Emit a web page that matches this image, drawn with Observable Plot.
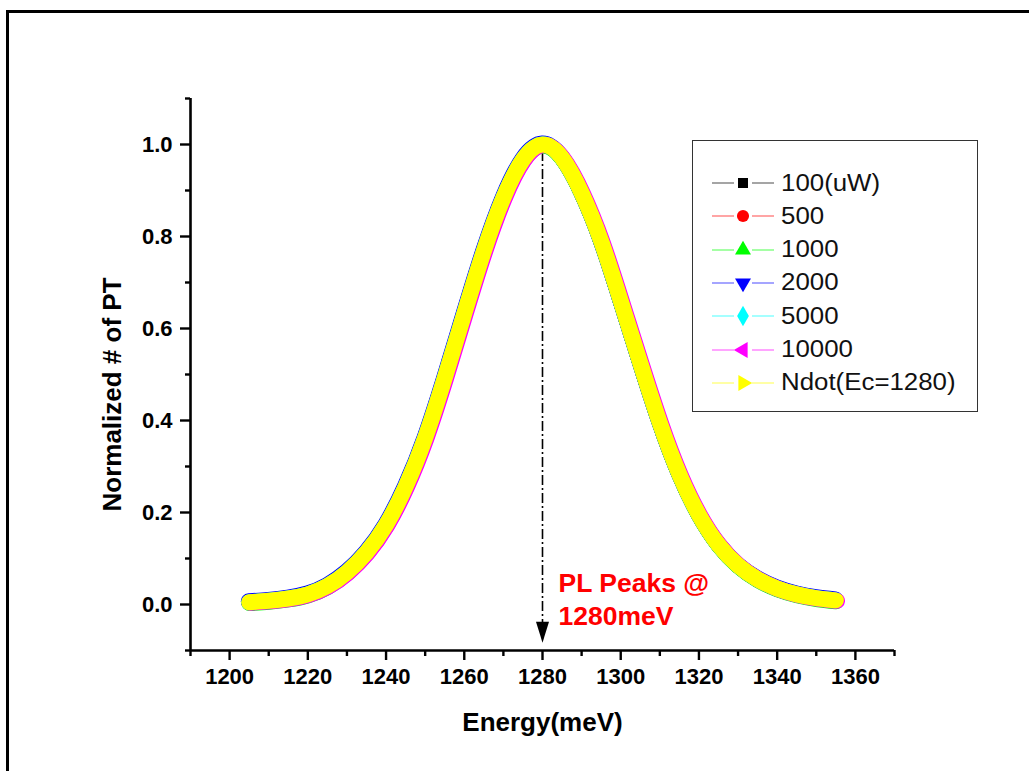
<!DOCTYPE html>
<html>
<head>
<meta charset="utf-8">
<script src="https://cdn.jsdelivr.net/npm/d3@7"></script>
<script src="https://cdn.jsdelivr.net/npm/@observablehq/plot@0.6"></script>
<style>
  html, body { margin: 0; padding: 0; background: #fff; }
  #page { position: relative; width: 1029px; height: 771px; overflow: hidden; background: #fff;
          font-family: "Liberation Sans", Arial, Helvetica, sans-serif; }
  #sheet { position: absolute; left: 6px; top: 10px; width: 1040px; height: 780px;
           border-left: 3px solid #000; border-top: 3px solid #000; box-sizing: border-box; }
  #chart { position: absolute; left: 0; top: 0; }
  #legend { position: absolute; left: 692px; top: 140px; width: 286px; height: 272px;
            border: 1.5px solid #333; box-sizing: border-box; background: #fff; }
  .row { position: absolute; left: 0; height: 30px; display: flex; align-items: center; }
  .row svg { display: block; }
  .row span { display: inline-block; font-size: 23.5px; color: #111; margin-left: 7px; white-space: nowrap;
              transform: scaleX(1.1); transform-origin: left center; }
</style>
</head>
<body>
<div id="page">
  <div id="sheet"></div>
  <div id="chart"></div>
  <div id="legend"></div>
</div>
<script>
// Photoluminescence spectra, normalized, for several excitation powers
const energy = [1205, 1210, 1215, 1220, 1225, 1230, 1235, 1240, 1245, 1250, 1255, 1260, 1265, 1270, 1275,
                1280, 1285, 1290, 1295, 1300, 1305, 1310, 1315, 1320, 1325, 1330, 1335, 1340, 1345, 1350, 1355];
const normalizedPL = [0.005, 0.008, 0.013, 0.022, 0.04, 0.07, 0.113, 0.173, 0.256, 0.362, 0.492, 0.632, 0.768, 0.884, 0.967,
                      1.0, 0.971, 0.895, 0.79, 0.66, 0.525, 0.395, 0.283, 0.195, 0.13, 0.085, 0.055, 0.035, 0.022, 0.014, 0.009];

const seriesNames = ["100(uW)", "500", "1000", "2000", "5000", "10000", "Ndot(Ec=1280)"];
const seriesColors = ["#000000", "#ff0000", "#00ff00", "#0000ff", "#00ffff", "#ff00ff", "#ffff00"];
const seriesSymbols = ["square", "circle", "triangle", "triangleDown", "diamond", "triangleLeft", "triangleRight"];

const xDomain = [1190, 1370];
const yDomain = [-0.1, 1.1];
const xMajorTicks = [1200, 1220, 1240, 1260, 1280, 1300, 1320, 1340, 1360];
const xMinorTicks = [1190, 1210, 1230, 1250, 1270, 1290, 1310, 1330, 1350, 1370];
const yMajorTicks = [0.0, 0.2, 0.4, 0.6, 0.8, 1.0];
const yMinorTicks = [-0.1, 0.1, 0.3, 0.5, 0.7, 0.9, 1.1];

// Peak annotation
const peakEnergy = 1280;
const arrowFrom = 0.985;
const arrowTo = -0.083;
const peakLabel = "PL Peaks @\n1280meV";
const peakLabelY = 0.078;

const rows = [];
seriesNames.forEach((name) => {
  energy.forEach((e, j) => rows.push({series: name, energy: e, value: normalizedPL[j]}));
});

// small pixel offsets so the coloured edges of the overlapping bands peek out
const fringe = {"1000": {dx: 0.3, dy: 0.9}, "2000": {dx: -0.4, dy: -0.9}, "10000": {dx: 1.2, dy: 0.5}};

// filled arrow head with its tip on the anchor point
const arrowHead = {
  draw(ctx) {
    ctx.moveTo(-6.5, -21);
    ctx.lineTo(6.5, -21);
    ctx.lineTo(0, 0);
    ctx.closePath();
  }
};

const bandMarks = seriesNames.map((name, i) => {
  const off = fringe[name] || {dx: 0, dy: 0};
  return Plot.line(rows.filter(d => d.series === name), {
    x: "energy", y: "value", stroke: seriesColors[i], strokeWidth: 16,
    curve: "natural", strokeLinecap: "round", strokeLinejoin: "round",
    dx: off.dx, dy: off.dy
  });
});

const fmt = d => d.toFixed(1);

const chart = Plot.plot({
  width: 1029,
  height: 771,
  marginLeft: 190,
  marginRight: 135,
  marginTop: 98,
  marginBottom: 121,
  style: {fontFamily: "'Liberation Sans', Arial, sans-serif", color: "#000", background: "transparent", overflow: "visible"},
  x: {domain: xDomain},
  y: {domain: yDomain},
  marks: [
    // dash-dot guide from the peak down to the axis
    Plot.ruleX([peakEnergy], {y1: arrowFrom, y2: arrowTo + 0.03, stroke: "#000", strokeWidth: 1.6, strokeDasharray: "10,3,2,3"}),
    Plot.dot([peakEnergy], {x: d => d, y: () => arrowTo, symbol: arrowHead, fill: "#000", stroke: "none"}),
    ...bandMarks,
    // axes
    Plot.ruleY([yDomain[0]], {stroke: "#000", strokeWidth: 2.6}),
    Plot.ruleX([xDomain[0]], {stroke: "#000", strokeWidth: 2.6}),
    Plot.axisX({ticks: xMajorTicks, tickSize: 10, tickPadding: 8, strokeWidth: 2.4, tickFormat: d => String(d),
                fontSize: 22, fontWeight: "bold", label: null}),
    Plot.axisX({ticks: xMinorTicks, tickSize: 6, strokeWidth: 2.4, text: null, label: null}),
    Plot.axisY({ticks: yMajorTicks, tickSize: 10, tickPadding: 8, strokeWidth: 2.4, tickFormat: fmt,
                fontSize: 22, fontWeight: "bold", label: null}),
    Plot.axisY({ticks: yMinorTicks, tickSize: 5, strokeWidth: 2.4, text: null, label: null}),
    // axis titles
    Plot.text(["Energy(meV)"], {frameAnchor: "bottom", dy: 72, lineAnchor: "middle", fontSize: 26, fontWeight: "bold", fill: "#000"}),
    Plot.text(["Normalized # of PT"], {frameAnchor: "left", dx: -78, dy: 20, rotate: -90, textAnchor: "middle",
                                       fontSize: 26, fontWeight: "bold", fill: "#000"}),
    // peak note
    Plot.text([{e: peakEnergy, v: peakLabelY, t: peakLabel}], {x: "e", y: "v", text: "t", dx: 16, textAnchor: "start",
                lineAnchor: "top", lineHeight: 1.25, fontSize: 26.5, fontWeight: "bold", fill: "#ff0000"})
  ]
});
document.getElementById("chart").appendChild(chart);

// legend: line - marker - line, then the series name
const legend = document.getElementById("legend");
seriesNames.forEach((name, i) => {
  const row = document.createElement("div");
  row.className = "row";
  row.style.top = (27 + i * 33.3) + "px";
  row.style.left = "19px";
  const svg = d3.create("svg").attr("width", 62).attr("height", 30);
  svg.append("line").attr("x1", 0).attr("x2", 22).attr("y1", 15).attr("y2", 15)
     .attr("stroke", seriesColors[i]).attr("stroke-width", 1).attr("opacity", 0.7);
  svg.append("line").attr("x1", 40).attr("x2", 62).attr("y1", 15).attr("y2", 15)
     .attr("stroke", seriesColors[i]).attr("stroke-width", 1).attr("opacity", 0.7);
  const s = seriesSymbols[i];
  let path, rot = 0;
  if (s === "triangleDown") { path = d3.symbol(d3.symbolTriangle, 110)(); rot = 180; }
  else if (s === "triangleLeft") { path = d3.symbol(d3.symbolTriangle, 110)(); rot = -90; }
  else if (s === "triangleRight") { path = d3.symbol(d3.symbolTriangle, 110)(); rot = 90; }
  else if (s === "triangle") { path = d3.symbol(d3.symbolTriangle, 110)(); }
  else if (s === "diamond") { path = d3.symbol(d3.symbolDiamond, 120)(); }
  else if (s === "circle") { path = d3.symbol(d3.symbolCircle, 115)(); }
  else { path = d3.symbol(d3.symbolSquare, 100)(); }
  svg.append("path").attr("d", path).attr("fill", seriesColors[i])
     .attr("transform", `translate(31,15) rotate(${rot})`);
  row.appendChild(svg.node());
  const label = document.createElement("span");
  label.textContent = name;
  row.appendChild(label);
  legend.appendChild(row);
});
</script>
</body>
</html>
